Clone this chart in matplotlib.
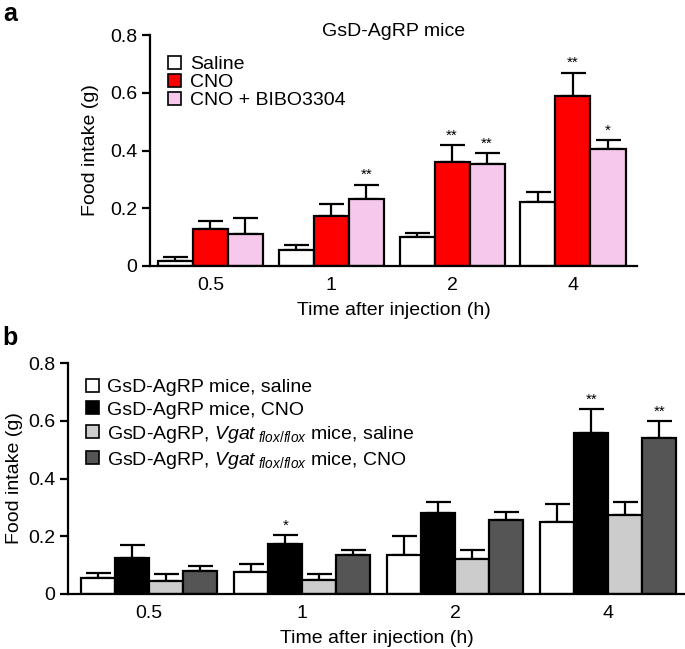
import numpy as np
import matplotlib.pyplot as plt
from matplotlib.patches import Patch

plt.rcParams['font.family'] = ['Liberation Sans', 'DejaVu Sans']
plt.rcParams['mathtext.fontset'] = 'custom'
plt.rcParams['mathtext.rm'] = 'Liberation Sans'
plt.rcParams['mathtext.it'] = 'Liberation Sans:italic'

times = ['0.5', '1', '2', '4']

# panel a: GsD-AgRP mice
a_labels = ['Saline', 'CNO', 'CNO + BIBO3304']
a_colors = ['white', '#ff0000', '#f5c8ec']
a_means = [[0.017, 0.054, 0.100, 0.223],
           [0.127, 0.173, 0.360, 0.590],
           [0.112, 0.231, 0.354, 0.406]]
a_tops = [[0.030, 0.073, 0.114, 0.256],
          [0.155, 0.213, 0.419, 0.670],
          [0.165, 0.282, 0.391, 0.435]]
a_stars = [['', '', '', ''],
           ['', '', '**', '**'],
           ['', '**', '**', '*']]

# panel b: with Vgat flox/flox
b_labels = ['GsD-AgRP mice, saline', 'GsD-AgRP mice, CNO',
            r'GsD-AgRP, $\mathit{Vgat}_{\ \mathit{flox/flox}}$ mice, saline',
            r'GsD-AgRP, $\mathit{Vgat}_{\ \mathit{flox/flox}}$ mice, CNO']
b_colors = ['white', 'black', '#cccccc', '#555555']
b_means = [[0.056, 0.077, 0.134, 0.249],
           [0.123, 0.172, 0.279, 0.556],
           [0.046, 0.048, 0.120, 0.274],
           [0.081, 0.135, 0.256, 0.541]]
b_tops = [[0.071, 0.103, 0.200, 0.310],
          [0.168, 0.203, 0.318, 0.642],
          [0.069, 0.069, 0.153, 0.319],
          [0.097, 0.153, 0.285, 0.600]]
b_stars = [['', '', '', ''],
           ['', '*', '', '**'],
           ['', '', '', ''],
           ['', '', '', '**']]

FS = 14


def draw_panel(ax, labels, colors, means, tops, stars, width, xlim, lspacing, lanchor, ypad):
    x = np.arange(len(times))
    n = len(labels)
    for i in range(n):
        pos = x + (i - (n - 1) / 2) * width
        m = np.array(means[i])
        up = np.array(tops[i]) - m
        ax.errorbar(pos, m, yerr=[np.zeros_like(m), up], fmt='none',
                    ecolor='black', elinewidth=1.6, capsize=9, capthick=1.6,
                    zorder=1)
        ax.bar(pos, m, width, color=colors[i], edgecolor='black',
               linewidth=1.6, zorder=2, label=labels[i])
        for j, s in enumerate(stars[i]):
            if s:
                ax.text(pos[j], tops[i][j] + 0.008, s, ha='center',
                        va='bottom', fontsize=11)
    ax.set_xlim(*xlim)
    ax.set_ylim(0, 0.8)
    ax.set_xticks(x)
    ax.set_xticklabels(times)
    ax.set_yticks([0, 0.2, 0.4, 0.6, 0.8])
    ax.set_yticklabels(['0', '0.2', '0.4', '0.6', '0.8'])
    ax.tick_params(axis='x', length=0, pad=8, labelsize=FS)
    ax.tick_params(axis='y', length=6, width=1.6, labelsize=FS, pad=3)
    for sp in ['top', 'right']:
        ax.spines[sp].set_visible(False)
    for sp in ['left', 'bottom']:
        ax.spines[sp].set_linewidth(1.6)
    ax.set_xlabel('Time after injection (h)', fontsize=FS, labelpad=6)
    ax.set_ylabel('Food intake (g)', fontsize=FS, labelpad=ypad)
    handles = [Patch(facecolor=c, edgecolor='black', linewidth=1.2) for c in colors]
    ax.legend(handles, labels, loc='upper left', bbox_to_anchor=lanchor,
              frameon=False, fontsize=FS, handlelength=0.65, handleheight=0.65,
              handletextpad=0.45, labelspacing=lspacing, borderaxespad=0.3)


fig = plt.figure(figsize=(6.85, 6.49), dpi=100)
ax_a = fig.add_axes([150 / 685, 1 - 266 / 649, 487 / 685, 231 / 649])
ax_b = fig.add_axes([68 / 685, 1 - 594 / 649, 617 / 685, 231 / 649])

draw_panel(ax_a, a_labels, a_colors, a_means, a_tops, a_stars,
           0.29, (-0.5, 3.53), 0.05, (0.01, 0.97), 8)
ax_a.text(0.5, 0.995, 'GsD-AgRP mice', transform=ax_a.transAxes,
          ha='center', va='baseline', fontsize=FS)
draw_panel(ax_b, b_labels, b_colors, b_means, b_tops, b_stars,
           0.222, (-0.53, 3.5), 0.26, (0.007, 0.99), 4)

fig.text(0.005, 0.997, 'a', fontsize=18, fontweight='bold', va='top', ha='left')
fig.text(0.003, 0.497, 'b', fontsize=18, fontweight='bold', va='top', ha='left')

fig.savefig('out.png', dpi=100)
